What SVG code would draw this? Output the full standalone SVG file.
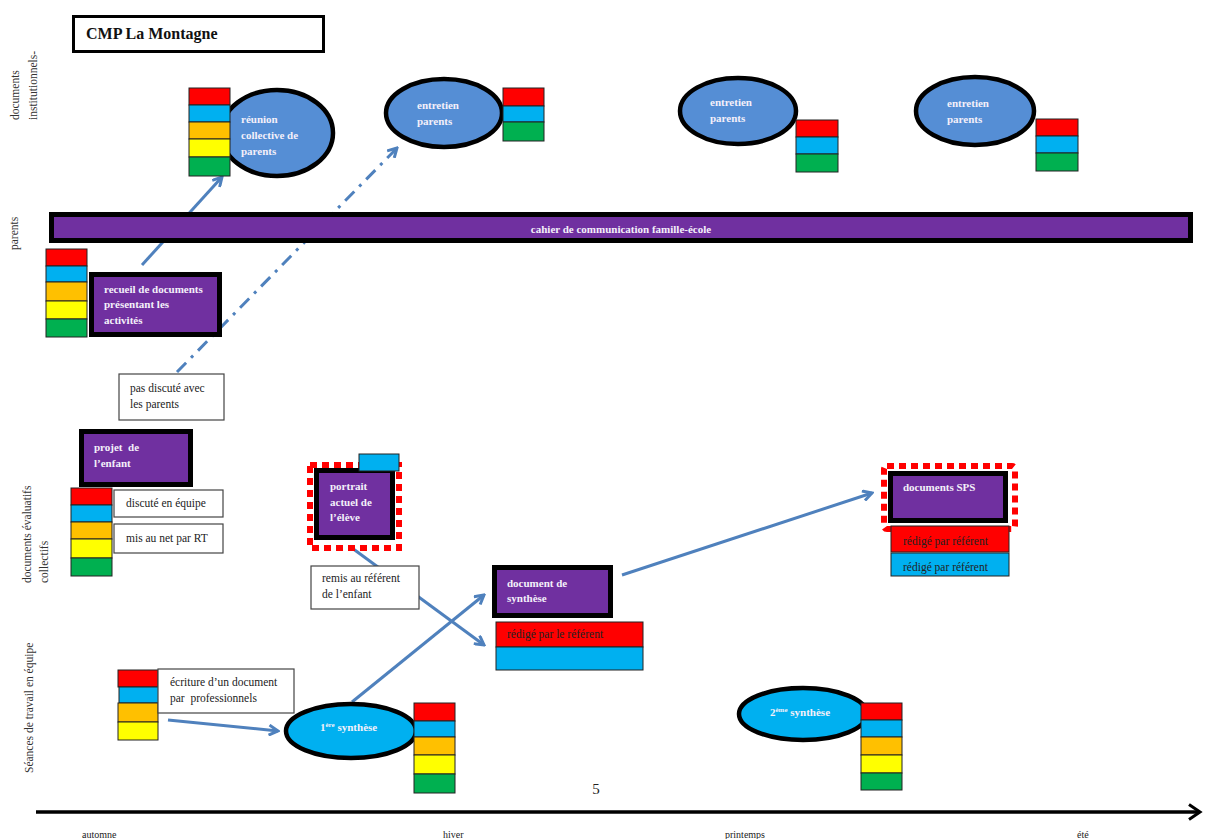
<svg xmlns="http://www.w3.org/2000/svg" width="1205" height="839" viewBox="0 0 1205 839">
  <defs>
    <style>
      text { font-family: "Liberation Serif", "Times New Roman", serif; }
      .lbl { font-size: 11.5px; fill: #222; }
      .wht { font-size: 11px; font-weight: bold; fill: #f4f0fa; }
      .axis { font-size: 11.5px; fill: #333; }
      .season { font-size: 10px; fill: #222; }
      .purple { fill: #7030A0; stroke: #000; stroke-width: 5; }
      .note { fill: #fff; stroke: #444; stroke-width: 1.2; }
      .ell-top { fill: #558ED5; stroke: #000; stroke-width: 4.5; }
      .ell-bot { fill: #00B0F0; stroke: #000; stroke-width: 4.5; }
      .dotted { fill: none; stroke: #FF0000; stroke-width: 6; stroke-dasharray: 7 5; }
      .cr { fill: #FF0000; stroke: #222; stroke-width: 1; }
      .cb { fill: #00B0F0; stroke: #222; stroke-width: 1; }
      .co { fill: #FFC000; stroke: #222; stroke-width: 1; }
      .cy { fill: #FFFF00; stroke: #222; stroke-width: 1; }
      .cg { fill: #00B050; stroke: #222; stroke-width: 1; }
      .link { fill: none; stroke: #4F81BD; stroke-width: 3; marker-end: url(#open); }
      .dashdot { stroke-dasharray: 13 7 3 7; }
    </style>
    <marker id="open" viewBox="0 0 12 12" refX="10" refY="6" markerWidth="12" markerHeight="12" markerUnits="userSpaceOnUse" orient="auto">
      <path d="M1,1 L10,6 L1,11" fill="none" stroke="#4F81BD" stroke-width="3" stroke-linejoin="miter"/>
    </marker>
  </defs>

  <rect width="1205" height="839" fill="#fff"/>

  <!-- title -->
  <g id="title">
    <rect x="73.5" y="16.5" width="250" height="35" fill="#fff" stroke="#000" stroke-width="3"/>
    <text x="86" y="39" font-size="16" font-weight="bold" fill="#111">CMP La Montagne</text>
  </g>

  <!-- row labels -->
  <g id="row-labels">
    <text class="axis" transform="translate(19,120) rotate(-90)">documents</text>
    <text class="axis" transform="translate(37,120) rotate(-90)">institutionnels-</text>
    <text class="axis" transform="translate(18,250) rotate(-90)">parents</text>
    <text class="axis" transform="translate(31,583) rotate(-90)">documents évaluatifs</text>
    <text class="axis" transform="translate(48,583) rotate(-90)">collectifs</text>
    <text class="axis" transform="translate(33,773) rotate(-90)">Séances de travail en équipe</text>
  </g>

  <!-- time axis -->
  <g id="timeline">
    <line x1="36" y1="812" x2="1199" y2="812" stroke="#000" stroke-width="3.5"/>
    <path d="M1189,804.5 L1200,812 L1189,819.5" fill="none" stroke="#000" stroke-width="3"/>
    <text class="season" x="82" y="838">automne</text>
    <text class="season" x="443" y="838">hiver</text>
    <text class="season" x="725" y="838">printemps</text>
    <text class="season" x="1077" y="838">été</text>
    <text x="596" y="794" font-size="15" text-anchor="middle" fill="#222">5</text>
  </g>

  <!-- connectors -->
  <g id="connectors">
    <line class="link" x1="142" y1="265" x2="222" y2="177"/>
    <line class="link dashdot" x1="177" y1="372" x2="397" y2="148"/>
    <line class="link" x1="352" y1="548" x2="484" y2="645"/>
    <line class="link" x1="352" y1="702" x2="484" y2="595"/>
    <line class="link" x1="168" y1="720" x2="278" y2="731"/>
    <line class="link" x1="622" y1="575" x2="872" y2="493"/>
  </g>

  <!-- institutional documents row -->
  <g id="reunion">
    <ellipse class="ell-top" cx="277" cy="133" rx="56" ry="43"/>
    <rect class="cr" x="189" y="88" width="41" height="17"/>
    <rect class="cb" x="189" y="105" width="41" height="17"/>
    <rect class="co" x="189" y="122" width="41" height="17"/>
    <rect class="cy" x="189" y="139" width="41" height="18"/>
    <rect class="cg" x="189" y="157" width="41" height="19"/>
    <text class="wht" x="241" y="123">réunion</text>
    <text class="wht" x="241" y="139">collective de</text>
    <text class="wht" x="241" y="155">parents</text>
  </g>

  <g id="entretien-1">
    <ellipse class="ell-top" cx="444" cy="113" rx="58" ry="34"/>
    <rect class="cr" x="503" y="88" width="41" height="18"/>
    <rect class="cb" x="503" y="106" width="41" height="16"/>
    <rect class="cg" x="503" y="122" width="41" height="19"/>
    <text class="wht" x="417" y="109">entretien</text>
    <text class="wht" x="417" y="125">parents</text>
  </g>

  <g id="entretien-2">
    <ellipse class="ell-top" cx="738" cy="111" rx="58" ry="33"/>
    <rect class="cr" x="796" y="120" width="42" height="17"/>
    <rect class="cb" x="796" y="137" width="42" height="17"/>
    <rect class="cg" x="796" y="154" width="42" height="18"/>
    <text class="wht" x="710" y="106">entretien</text>
    <text class="wht" x="710" y="122">parents</text>
  </g>

  <g id="entretien-3">
    <ellipse class="ell-top" cx="975" cy="111" rx="59" ry="34"/>
    <rect class="cr" x="1036" y="119" width="42" height="17"/>
    <rect class="cb" x="1036" y="136" width="42" height="17"/>
    <rect class="cg" x="1036" y="153" width="42" height="18"/>
    <text class="wht" x="947" y="107">entretien</text>
    <text class="wht" x="947" y="123">parents</text>
  </g>

  <!-- parents row -->
  <g id="cahier">
    <rect class="purple" x="51.5" y="214.5" width="1139" height="26"/>
    <text class="wht" x="621" y="233" text-anchor="middle">cahier de communication famille-école</text>
  </g>

  <g id="recueil">
    <rect class="cr" x="46" y="249" width="41" height="17"/>
    <rect class="cb" x="46" y="266" width="41" height="16"/>
    <rect class="co" x="46" y="282" width="41" height="19"/>
    <rect class="cy" x="46" y="301" width="41" height="18"/>
    <rect class="cg" x="46" y="319" width="41" height="18"/>
    <rect class="purple" x="91.5" y="274.5" width="128" height="60"/>
    <text class="wht" x="104" y="293">recueil de documents</text>
    <text class="wht" x="104" y="308">présentant les</text>
    <text class="wht" x="104" y="324">activités</text>
  </g>

  <g id="pas-discute">
    <rect class="note" x="119" y="374" width="105" height="46"/>
    <text class="lbl" x="130" y="392">pas discuté avec</text>
    <text class="lbl" x="130" y="408">les parents</text>
  </g>

  <!-- collective evaluation documents row -->
  <g id="projet">
    <rect class="purple" x="81.5" y="431.5" width="109" height="53"/>
    <text class="wht" x="94" y="451" xml:space="preserve">projet  de</text>
    <text class="wht" x="94" y="467">l’enfant</text>
    <rect class="cr" x="71" y="488" width="41" height="17"/>
    <rect class="cb" x="71" y="505" width="41" height="17"/>
    <rect class="co" x="71" y="522" width="41" height="17"/>
    <rect class="cy" x="71" y="539" width="41" height="19"/>
    <rect class="cg" x="71" y="558" width="41" height="18"/>
    <rect class="note" x="114" y="490" width="109" height="27"/>
    <text class="lbl" x="126" y="507">discuté en équipe</text>
    <rect class="note" x="114" y="524" width="109" height="29"/>
    <text class="lbl" x="126" y="542">mis au net par RT</text>
  </g>

  <g id="portrait">
    <rect class="dotted" x="310" y="465" width="89" height="83"/>
    <rect class="purple" x="316.5" y="470.5" width="76" height="67"/>
    <rect class="cb" x="359" y="454" width="40" height="17"/>
    <text class="wht" x="330" y="490">portrait</text>
    <text class="wht" x="330" y="506">actuel de</text>
    <text class="wht" x="330" y="521">l’élève</text>
  </g>

  <g id="remis">
    <rect class="note" x="311" y="566" width="108" height="43"/>
    <text class="lbl" x="322" y="582">remis au référent</text>
    <text class="lbl" x="322" y="598">de l’enfant</text>
  </g>

  <g id="document-synthese">
    <rect class="purple" x="494.5" y="567.5" width="116" height="48"/>
    <text class="wht" x="507" y="587">document de</text>
    <text class="wht" x="507" y="602">synthèse</text>
    <rect class="cr" x="496" y="622" width="147" height="25"/>
    <rect class="cb" x="496" y="647" width="147" height="23"/>
    <text class="lbl" x="507" y="638">rédigé par le référent</text>
  </g>

  <g id="documents-sps">
    <rect class="dotted" x="884" y="466" width="131" height="63" rx="3"/>
    <rect class="purple" x="890.5" y="473.5" width="115" height="47"/>
    <text class="wht" x="903" y="491">documents SPS</text>
    <rect class="cr" x="891" y="526" width="118" height="26"/>
    <text class="lbl" x="903" y="545">rédigé par référent</text>
    <rect class="cb" x="891" y="553" width="118" height="23"/>
    <text class="lbl" x="903" y="571">rédigé par référent</text>
  </g>

  <!-- team work sessions row -->
  <g id="ecriture">
    <rect class="cr" x="118" y="670" width="40" height="17"/>
    <rect class="cb" x="119" y="687" width="40" height="16"/>
    <rect class="co" x="118" y="703" width="40" height="19"/>
    <rect class="cy" x="118" y="722" width="40" height="18"/>
    <rect class="note" x="158" y="669" width="136" height="44"/>
    <text class="lbl" x="170" y="686">écriture d’un document</text>
    <text class="lbl" x="170" y="702" xml:space="preserve">par  professionnels</text>
  </g>

  <g id="synthese-1">
    <ellipse class="ell-bot" cx="351" cy="731" rx="65" ry="27"/>
    <rect class="cr" x="414" y="703" width="41" height="18"/>
    <rect class="cb" x="414" y="721" width="41" height="16"/>
    <rect class="co" x="414" y="737" width="41" height="18"/>
    <rect class="cy" x="414" y="755" width="41" height="19"/>
    <rect class="cg" x="414" y="774" width="41" height="19"/>
    <text class="wht" x="320" y="731">1<tspan font-size="7" dy="-4">ère</tspan><tspan dy="4"> synthèse</tspan></text>
  </g>

  <g id="synthese-2">
    <ellipse class="ell-bot" cx="803" cy="714" rx="64" ry="26"/>
    <rect class="cr" x="861" y="703" width="41" height="17"/>
    <rect class="cb" x="861" y="720" width="41" height="17"/>
    <rect class="co" x="861" y="737" width="41" height="18"/>
    <rect class="cy" x="861" y="755" width="41" height="18"/>
    <rect class="cg" x="861" y="773" width="41" height="17"/>
    <text class="wht" x="770" y="716">2<tspan font-size="7" dy="-4">ème</tspan><tspan dy="4"> synthèse</tspan></text>
  </g>
</svg>
